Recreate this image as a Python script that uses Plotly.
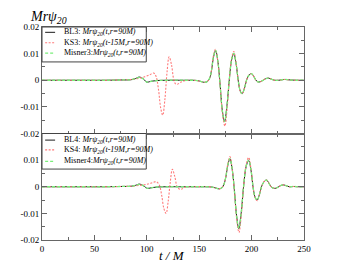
import plotly.graph_objects as go
from plotly.subplots import make_subplots

# ---------------- data ----------------
t_bl3 = [0, 20, 40, 60, 75, 85, 89, 93, 97, 100, 104, 110, 120, 135, 148, 152, 155.5, 158, 160, 161.8, 163.7,
         165.7, 167.9, 169.8, 172.1, 174.2, 176.5, 178.8, 181, 183, 185.2, 187.5, 189.3, 191, 193.3, 195.5, 197.6,
         199.8, 202, 204, 206, 208, 210.5, 213, 216, 219, 222, 226, 231, 237, 243, 250]
v_bl3 = [0, 0, 0, 0, 0.0001, 0.0002, 0.0006, 0.0012, 0.0004, -0.0007, -0.0004, -0.0001, 0, 0, -0.0001, -0.0005, -0.0008,
         -0.0004, 0.0008, 0.0038, 0.0088, 0.0111, 0.0068, -0.0010, -0.0115, -0.0156, -0.0095, 0.0005, 0.0078, 0.0100,
         0.0062, -0.0008, -0.0042, -0.0050, -0.0028, 0.0004, 0.0020, 0.0025, 0.0015, 0.0001, -0.0006, -0.0006, -0.0001,
         0.0005, 0.0008, 0.0004, 0.0, 0.0, 0.0003, 0.0001, 0, 0]

t_ks3 = [0, 30, 60, 75, 85, 92, 98, 103, 106.5, 108.8, 111, 113.3, 115.2, 117.3, 119.3, 121.3, 123.5, 125.6, 127.5,
         129.4, 132, 136, 145, 152, 155.5, 158, 160, 161.8, 163.6, 165.5, 167.8, 169.8, 172.2, 174.5, 176.7, 178.8,
         181, 183, 185.2, 187.5, 189.3, 191, 193.3, 195.5, 197.6, 199.8, 202, 204, 206, 208, 210.5, 213, 216, 219,
         222, 226, 231, 237, 243, 250]
v_ks3 = [0, 0, 0, 0.0001, 0.0003, 0.0007, 0.0013, 0.0021, 0.0027, 0.0015, -0.0030, -0.0105, -0.0131, -0.0070, 0.0030,
         0.0088, 0.0060, 0.0005, -0.0014, -0.0015, -0.0008, -0.0002, 0, -0.0005, -0.0008, -0.0004, 0.0008, 0.0040,
         0.0092, 0.0116, 0.0070, -0.0012, -0.0125, -0.0172, -0.0105, 0.0005, 0.0084, 0.0108, 0.0066, -0.0008, -0.0043,
         -0.0051, -0.0028, 0.0004, 0.0020, 0.0025, 0.0015, 0.0001, -0.0006, -0.0006, -0.0001, 0.0005, 0.0008, 0.0004,
         0, 0, 0.0003, 0.0001, 0, 0]

t_mis3 = [0, 20, 40, 60, 75, 85, 89, 93, 97, 100, 104, 110, 120, 135, 148, 152, 155.5, 158, 160, 161.8, 163.7,
          165.7, 167.9, 169.8, 172.1, 174.2, 176.5, 178.8, 181, 183, 185.2, 187.5, 189.3, 191, 193.3, 195.5, 197.6,
          199.8, 202, 204, 206, 208, 210.5, 213, 216, 219, 222, 226, 231, 237, 243, 250]
v_mis3 = [0, 0, 0, 0, 0.0001, 0.0002, 0.0006, 0.0011, 0.0004, -0.0007, -0.0004, -0.0001, 0, 0, -0.0001, -0.0005,
          -0.0008, -0.0004, 0.0008, 0.0039, 0.0089, 0.0112, 0.0069, -0.0010, -0.0114, -0.0155, -0.0094, 0.0005, 0.0079,
          0.0101, 0.0062, -0.0008, -0.0042, -0.0050, -0.0028, 0.0004, 0.0020, 0.0025, 0.0015, 0.0001, -0.0006, -0.0006,
          -0.0001, 0.0005, 0.0008, 0.0004, 0.0, 0.0, 0.0003, 0.0001, 0, 0]

t_bl4 = [0, 30, 60, 75, 85, 89, 93, 97, 100.5, 104, 110, 120, 135, 150, 162, 166, 169, 171.5, 173.5, 175.4, 177.3,
         179.3, 181.5, 183.5, 185.7, 187.8, 190.1, 192.4, 194.8, 197.2, 199.4, 201.6, 203.5, 205.3, 207.5, 209.7,
         211.9, 214.1, 216.3, 218.4, 220.5, 222.6, 225, 227.5, 230.2, 233, 236, 240, 245, 250]
v_bl4 = [0, 0, 0, 0.0001, 0.0002, 0.0005, 0.0010, 0.0003, -0.0006, -0.0004, -0.0001, 0, 0, 0, -0.0001, -0.0005,
         -0.0008, -0.0004, 0.0008, 0.0036, 0.0080, 0.0105, 0.0065, -0.0010, -0.0110, -0.0158, -0.0098, 0.0003, 0.0076,
         0.0099, 0.0063, -0.0007, -0.0041, -0.0050, -0.0029, 0.0003, 0.0019, 0.0025, 0.0015, 0.0001, -0.0005, -0.0006,
         -0.0002, 0.0004, 0.0007, 0.0004, 0.0, 0.0001, 0, 0]

t_ks4 = [0, 30, 60, 75, 85, 95, 102, 106, 109, 111.8, 114.2, 116.3, 118.4, 120.4, 122.4, 124.4, 126.6, 129, 131.3,
         133.3, 136, 145, 160, 166, 169, 171.5, 173.5, 175.4, 177.3, 179.3, 181.5, 183.5, 185.8, 188, 190.2, 192.4,
         194.8, 197.2, 199.4, 201.6, 203.5, 205.3, 207.5, 209.7, 211.9, 214.1, 216.3, 218.4, 220.5, 222.6, 225, 227.5,
         230.2, 233, 236, 240, 245, 250]
v_ks4 = [0, 0, 0, 0.0001, 0.0002, 0.0006, 0.0011, 0.0016, 0.0019, 0.0008, -0.0032, -0.0082, -0.0100, -0.0055, 0.0018,
         0.0066, 0.0040, 0.0000, -0.0009, -0.0009, -0.0002, 0, 0, -0.0005, -0.0008, -0.0004, 0.0008, 0.0038, 0.0086,
         0.0113, 0.0068, -0.0012, -0.0122, -0.0172, -0.0105, 0.0004, 0.0082, 0.0110, 0.0068, -0.0007, -0.0043, -0.0052,
         -0.0029, 0.0003, 0.0019, 0.0025, 0.0015, 0.0001, -0.0005, -0.0006, -0.0002, 0.0004, 0.0007, 0.0004, 0.0,
         0.0001, 0, 0]

t_mis4 = [0, 30, 60, 75, 85, 89, 93, 97, 100.5, 104, 110, 120, 135, 150, 162, 166, 169, 171.5, 173.5, 175.4, 177.3,
          179.3, 181.5, 183.5, 185.7, 187.8, 190.1, 192.4, 194.8, 197.2, 199.4, 201.6, 203.5, 205.3, 207.5, 209.7,
          211.9, 214.1, 216.3, 218.4, 220.5, 222.6, 225, 227.5, 230.2, 233, 236, 240, 245, 250]
v_mis4 = [0, 0, 0, 0.0001, 0.0002, 0.0005, 0.0009, 0.0003, -0.0006, -0.0004, -0.0001, 0, 0, 0, -0.0001, -0.0005,
          -0.0008, -0.0004, 0.0008, 0.0037, 0.0081, 0.0106, 0.0066, -0.0010, -0.0109, -0.0157, -0.0097, 0.0003, 0.0077,
          0.0100, 0.0063, -0.0007, -0.0041, -0.0050, -0.0029, 0.0003, 0.0019, 0.0025, 0.0015, 0.0001, -0.0005, -0.0006,
          -0.0002, 0.0004, 0.0007, 0.0004, 0.0, 0.0001, 0, 0]

x_ticks = [0, 50, 100, 150, 200, 250]
y_ticks_top = [-0.02, -0.01, 0, 0.01, 0.02]
y_text_top = ["-0.02", "-0.01", "0", "0.01", "0.02"]
y_ticks_bot = [-0.02, -0.01, 0, 0.01]
y_text_bot = ["-0.02", "-0.01", "0", "0.01"]

labels_top = ["BL3: <i>Mr\u03c8</i><sub><i>20</i></sub><i>(t,r=90M)</i>",
              "KS3: <i>Mr\u03c8</i><sub><i>20</i></sub><i>(t-15M,r=90M)</i>",
              "Misner3:<i>Mr\u03c8</i><sub><i>20</i></sub><i>(t,r=90M)</i>"]
labels_bot = ["BL4: <i>Mr\u03c8</i><sub><i>20</i></sub><i>(t,r=90M)</i>",
              "KS4: <i>Mr\u03c8</i><sub><i>20</i></sub><i>(t-19M,r=90M)</i>",
              "Misner4:<i>Mr\u03c8</i><sub><i>20</i></sub><i>(t,r=90M)</i>"]

# ---------------- styles ----------------
FONT = "Liberation Serif"
C_BL, C_KS, C_MI = "#1a1a1a", "#ff7a7a", "#7aee7a"
styles = [dict(color=C_BL, width=1.0, dash="solid"),
          dict(color=C_KS, width=1.1, dash="2px,1.5px"),
          dict(color=C_MI, width=1.3, dash="3px,2px")]

fig = make_subplots(rows=2, cols=1, shared_xaxes=True, vertical_spacing=0)

for row, series in [(1, [(t_bl3, v_bl3), (t_ks3, v_ks3), (t_mis3, v_mis3)]),
                    (2, [(t_bl4, v_bl4), (t_ks4, v_ks4), (t_mis4, v_mis4)])]:
    for (t, v), st in zip(series, styles):
        fig.add_trace(go.Scatter(x=t, y=v, mode="lines", line=dict(shape="spline", smoothing=1.0, **st),
                                 showlegend=False, hoverinfo="skip"), row=row, col=1)

axcol = "#666666"
common = dict(showline=True, linecolor=axcol, linewidth=1, mirror="ticks", ticks="inside", tickcolor=axcol,
              ticklen=5, tickwidth=1, showgrid=False, zeroline=False,
              tickfont=dict(family=FONT, size=9, color="#000"))

fig.update_xaxes(range=[0, 250], tickvals=x_ticks,
                 minor=dict(ticks="inside", ticklen=3, tickcolor=axcol, dtick=25, showgrid=False), **common)
fig.update_xaxes(showticklabels=False, row=1, col=1)
fig.update_yaxes(range=[-0.02, 0.02],
                 minor=dict(ticks="inside", ticklen=3, tickcolor=axcol, dtick=0.005, showgrid=False), **common)
fig.update_yaxes(tickvals=y_ticks_top, ticktext=y_text_top, domain=[0.5, 1], row=1, col=1)
fig.update_yaxes(tickvals=y_ticks_bot, ticktext=y_text_bot, domain=[0, 0.5], row=2, col=1)

# ---------------- manual legends ----------------
shapes = []
annotations = []
for (y_top, y_bot, rows, labels) in [(1.0, 0.836, [0.975, 0.926, 0.877], labels_top),
                                      (0.5, 0.333, [0.469, 0.423, 0.369], labels_bot)]:
    shapes.append(dict(type="rect", xref="paper", yref="paper", x0=0, x1=0.398, y0=y_bot, y1=y_top,
                       line=dict(color="#444", width=1), fillcolor="white", layer="above"))
    for yy, lab, st in zip(rows, labels, styles):
        shapes.append(dict(type="line", xref="paper", yref="paper", x0=0.012, x1=0.05, y0=yy, y1=yy,
                           line=dict(color=st["color"], width=st["width"], dash=st["dash"]), layer="above"))
        annotations.append(dict(text=lab, xref="paper", yref="paper", x=0.078, y=yy, xanchor="left",
                                yanchor="middle", showarrow=False, font=dict(family=FONT, size=8, color="#000")))

annotations.append(dict(text="<i>Mr\u03c8</i><sub><i>20</i></sub>", xref="paper", yref="paper", x=-0.055, y=1.045,
                        xanchor="left", yanchor="middle", showarrow=False,
                        font=dict(family=FONT, size=14, color="#000")))
annotations.append(dict(text="<i>t / M</i>", xref="paper", yref="paper", x=0.495, y=-0.072,
                        xanchor="center", yanchor="middle", showarrow=False,
                        font=dict(family=FONT, size=13, color="#000")))

# the page places the figure 8px from the top-left corner, so the figure is 8px smaller
fig.update_layout(width=337, height=259, margin=dict(l=32, r=41, t=19, b=27),
                  paper_bgcolor="white", plot_bgcolor="white", showlegend=False,
                  shapes=shapes, annotations=annotations)

fig.write_html("out.html")
